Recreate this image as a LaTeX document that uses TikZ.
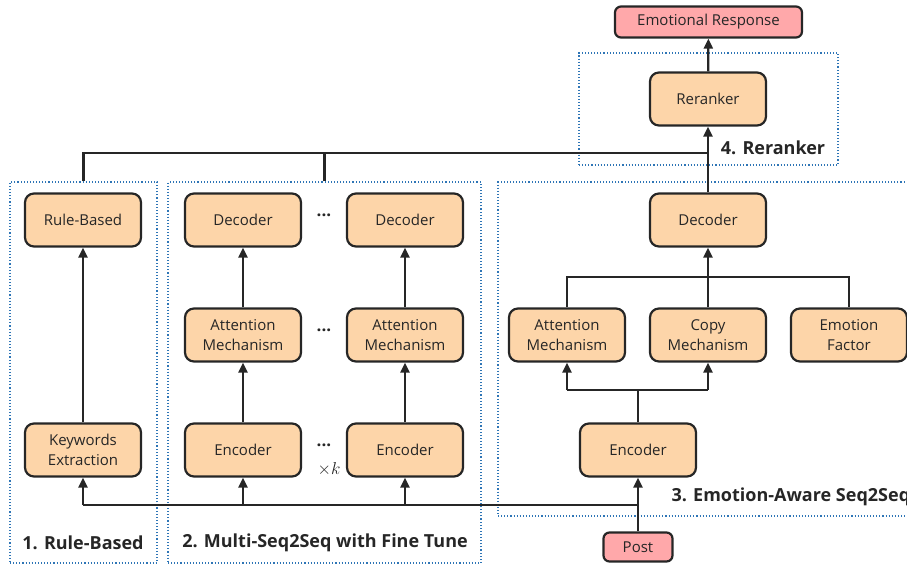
\documentclass[tikz,border=0pt]{standalone}
\usepackage{fontspec}
\setmainfont{Open Sans}
\usetikzlibrary{arrows.meta,positioning,calc}
\definecolor{boxfill}{HTML}{FDD5A9}
\definecolor{iofill}{HTML}{FFA8AA}
\definecolor{grpblue}{HTML}{2E75B6}
\definecolor{inkgray}{HTML}{262626}

\begin{document}
\begin{tikzpicture}[x=1pt, y=-1pt,
  every node/.style={font=\fontsize{15}{20}\selectfont, text=inkgray},
  blk/.style ={draw=inkgray, line width=2.2pt, rounded corners=9pt,
               fill=boxfill, minimum width=116pt, minimum height=53pt,
               align=center, inner sep=0pt},
  io/.style  ={blk, fill=iofill, rounded corners=6pt},
  grp/.style ={draw=grpblue, dotted, line width=1.1pt},
  tit/.style ={font=\fontsize{18}{21}\selectfont\bfseries},
  dots/.style={font=\fontsize{17}{20}\selectfont\bfseries},
  arr/.style ={-{Triangle[width=9pt,length=10pt]}, line width=2.2pt, draw=inkgray},
  lin/.style ={line width=2.2pt, draw=inkgray}
]
\clip (0,0) rectangle (907,566);

%% ─── group frames ──────────────────────────────────────────────────────────
\node[grp, minimum width=147pt, minimum height=381pt] (g1) at (83.5,372.5) {};
\node[grp, minimum width=313pt, minimum height=381pt] (g2) at (324.5,372.5) {};
\node[grp, minimum width=430pt, minimum height=334pt] (g3) at (713,349) {};
\node[grp, minimum width=259pt, minimum height=112pt] (g4) at (708.5,109) {};

\node[tit] (g1_t) at (83,543)  {1. Rule-Based};
\node[tit] (g2_t) at (325,543) {2. Multi-Seq2Seq with Fine Tune};
\node[tit, anchor=west] (g3_t) at (668,497) {3. Emotion-Aware Seq2Seq};
\node[tit] (g4_t) at (773,148) {4. Reranker};

%% ─── input / output ────────────────────────────────────────────────────────
\node[io, minimum width=187pt, minimum height=31pt] (out) at (708.5,22) {Emotional Response};
\node[io, minimum width=69pt,  minimum height=29pt] (post) at (638,547) {Post};

%% ─── (1) Rule-Based ────────────────────────────────────────────────────────
\node[blk] (rb_dec) at (83,220) {Rule-Based};
\node[blk] (rb_kw)  at (83,450) {Keywords\\Extraction};

%% ─── (2) Multi-Seq2Seq ─────────────────────────────────────────────────────
\node[blk] (ms_d1) at (243,220) {Decoder};
\node[blk] (ms_a1) at (243,335) {Attention\\Mechanism};
\node[blk] (ms_e1) at (243,450) {Encoder};
\node[blk] (ms_d2) at (405,220) {Decoder};
\node[blk] (ms_a2) at (405,335) {Attention\\Mechanism};
\node[blk] (ms_e2) at (405,450) {Encoder};
\node[dots] (ms_p1) at (324,215) {...};
\node[dots] (ms_p2) at (324,330) {...};
\node[dots] (ms_p3) at (324,445) {...};
\node[font=\fontsize{17}{20}\selectfont] (ms_k) at (329,469) {$\times k$};

%% ─── (3) Emotion-Aware Seq2Seq ─────────────────────────────────────────────
\node[blk] (ea_dec) at (708,220) {Decoder};
\node[blk] (ea_att) at (567,335) {Attention\\Mechanism};
\node[blk] (ea_cp)  at (708,335) {Copy\\Mechanism};
\node[blk] (ea_emo) at (849,335) {Emotion\\Factor};
\node[blk] (ea_enc) at (638,450) {Encoder};

%% ─── (4) Reranker ──────────────────────────────────────────────────────────
\node[blk] (rr) at (708,99) {Reranker};

%% ─── connectors ────────────────────────────────────────────────────────────
\coordinate (top_bus) at (708,153);
\coordinate (in_bus)  at (638,505);
\coordinate (ea_split) at (638,390);
\coordinate (ea_join)  at (708,277);

\draw[arr] (rr)--(out);
\draw[arr] (ea_dec)--(rr);
\draw[lin] (g1.north) |- (top_bus);
\draw[lin] (g2.north) -- (g2.north |- top_bus);

\draw[arr] (rb_kw)--(rb_dec);
\foreach \a/\b in {ms_e1/ms_a1, ms_a1/ms_d1, ms_e2/ms_a2, ms_a2/ms_d2}
  \draw[arr] (\a)--(\b);

\draw[arr] (post)--(ea_enc);
\draw[lin] (rb_kw.south |- in_bus) -- (in_bus);
\foreach \n in {rb_kw, ms_e1, ms_e2}
  \draw[arr] (\n.south |- in_bus) -- (\n.south);

\draw[lin] (ea_enc.north) -- (ea_split);
\draw[lin] (ea_att.south |- ea_split) -- (ea_cp.south |- ea_split);
\draw[arr] (ea_att.south |- ea_split) -- (ea_att.south);
\draw[arr] (ea_cp.south |- ea_split) -- (ea_cp.south);

\draw[lin] (ea_att.north) |- (ea_emo.north |- ea_join) -- (ea_emo.north);
\draw[arr] (ea_cp)--(ea_dec);

\end{tikzpicture}
\end{document}
